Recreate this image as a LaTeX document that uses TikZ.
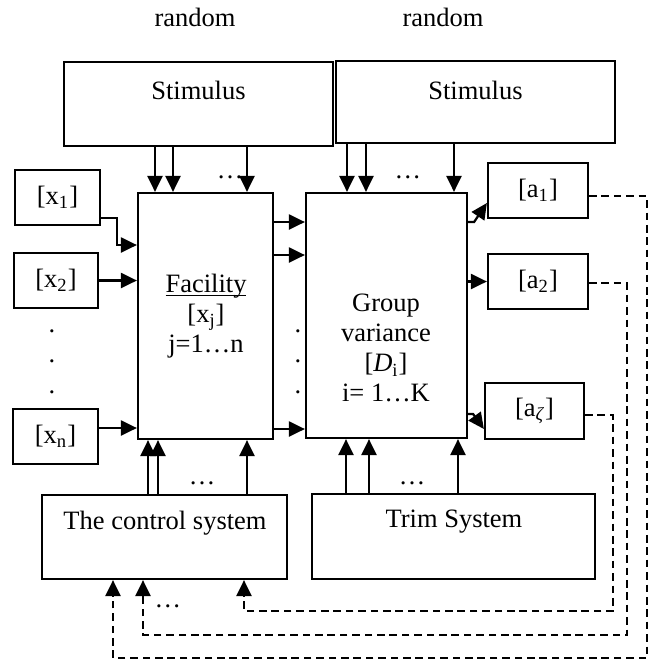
\documentclass[tikz,border=0pt]{standalone}
\usepackage{fontspec}
\setmainfont{Liberation Serif}
\usetikzlibrary{arrows.meta}

\tikzstyle{box}=[
  draw,
  rectangle,
  line width=1.1pt,
  inner sep=0pt,
  font=\fontsize{13.25pt}{15pt}\selectfont,
  ]
\tikzstyle{txt}=[ inner sep=0pt, align=center, font=\fontsize{13.25pt}{15pt}\selectfont ]
\tikzstyle{dotmark}=[ inner sep=0pt, anchor=base, font=\fontsize{13.25pt}{15pt}\selectfont ]
\tikzstyle{arr}=[ line width=1.1pt, -{Triangle[length=8pt,width=7.5pt]} ]
\tikzstyle{feedback}=[ arr, dash pattern=on 3.8pt off 2.4pt ]

\begin{document}
\begin{tikzpicture}[
    x=0.5pt, y=-0.5pt,
    ]
    \useasboundingbox (0,0) rectangle (655,661);

    \node[txt] (rnd1) at (195,17) {random};
    \node[txt] (rnd2) at (443,17) {random};

    \node[box, minimum width=134.5pt, minimum height=42pt] (stimL) at (198.5,104) {};
    \node[txt] (stimLtxt) at (198.5,90) {Stimulus};
    \node[box, minimum width=139.5pt, minimum height=41pt] (stimR) at (475.5,102) {};
    \node[txt] (stimRtxt) at (475.5,90) {Stimulus};

    \node[box, minimum width=67.5pt, minimum height=123pt] (fac) at (205.5,316) {};
    \node[txt, anchor=north] (factxt) at (206,292) {\underline{\smash{Facility}}\\{}[x\textsubscript{j}]\\j=1\ldots n};
    \node[box, minimum width=80.5pt, minimum height=122.5pt] (grp) at (386.5,315.5) {};
    \node[txt, anchor=north] (grptxt) at (386,294) {Group\\variance\\{}[\textit{D}\textsubscript{i}]\\i= 1\ldots K};

    \node[box, minimum width=42.5pt, minimum height=27.5pt] (x1) at (57.5,197.5) {[x\textsubscript{1}]};
    \node[box, minimum width=42pt, minimum height=27.5pt] (x2) at (56,280.5) {[x\textsubscript{2}]};
    \node[box, minimum width=42.5pt, minimum height=27.5pt] (xn) at (55.5,436.5) {[x\textsubscript{n}]};
    \node[dotmark] (vd1) at (52,332) {.};
    \node[dotmark] (vd2) at (52,362) {.};
    \node[dotmark] (vd3) at (52,393) {.};

    \node[box, minimum width=50pt, minimum height=27.5pt] (a1) at (538,190.5) {[a\textsubscript{1}]};
    \node[box, minimum width=50pt, minimum height=27.5pt] (a2) at (538,281.5) {[a\textsubscript{2}]};
    \node[box, minimum width=49.5pt, minimum height=28pt] (az) at (534.5,411) {[a\textsubscript{\textit{ζ}}]};

    \node[box, minimum width=122.5pt, minimum height=42pt] (ctrl) at (164.5,537) {};
    \node[txt] (ctrltxt) at (165,523) {The control system};
    \node[box, minimum width=141.5pt, minimum height=42.5pt] (trim) at (453.5,536.5) {};
    \node[txt] (trimtxt) at (454,522) {Trim System};

    \node[dotmark] (sd1) at (230,178) {\ldots};
    \node[dotmark] (sd2) at (408,178) {\ldots};
    \node[dotmark] (cd1) at (202,484) {\ldots};
    \node[dotmark] (cd2) at (412,484) {\ldots};
    \node[dotmark] (fd1) at (168,607) {\ldots};
    \node[dotmark] (md1) at (298,332) {.};
    \node[dotmark] (md2) at (298,362) {.};
    \node[dotmark] (md3) at (298,393) {.};

    \draw[arr] (155,0 |- stimL.south) -- (155,0 |- fac.north);
    \draw[arr] (173,0 |- stimL.south) -- (173,0 |- fac.north);
    \draw[arr] (247,0 |- stimL.south) -- (247,0 |- fac.north);
    \draw[arr] (347,0 |- stimR.south) -- (347,0 |- grp.north);
    \draw[arr] (366,0 |- stimR.south) -- (366,0 |- grp.north);
    \draw[arr] (454,0 |- stimR.south) -- (454,0 |- grp.north);

    \draw[arr] (x1.east |- 0,218) -- (117,218) -- (117,245) -- (fac.west |- 0,245);
    \draw[arr] (x2.east) -- (fac.west |- x2.east);
    \draw[arr] (xn.east |- 0,428) -- (fac.west |- 0,428);

    \draw[arr] (fac.east |- 0,222) -- (grp.west |- 0,222);
    \draw[arr] (fac.east |- 0,255) -- (grp.west |- 0,255);
    \draw[arr] (fac.east |- 0,429) -- (grp.west |- 0,429);

    \draw[arr] (grp.east |- 0,222) -- ++(6,0) -- (a1.west |- 0,203);
    \draw[arr] (grp.east |- a2.west) -- (a2.west);
    \draw[arr] (grp.east |- 0,414) -- ++(5,0) -- (az.west |- 0,429);

    \draw[arr] (148,0 |- ctrl.north) -- (148,0 |- fac.south);
    \draw[arr] (158,0 |- ctrl.north) -- (158,0 |- fac.south);
    \draw[arr] (247,0 |- ctrl.north) -- (247,0 |- fac.south);
    \draw[arr] (346,0 |- trim.north) -- (346,0 |- grp.south);
    \draw[arr] (369,0 |- trim.north) -- (369,0 |- grp.south);
    \draw[arr] (458,0 |- trim.north) -- (458,0 |- grp.south);

    \draw[feedback] (a1.east |- 0,196) -- (647,196) -- (647,658) -- (113,658) -- (113,0 |- ctrl.south);
    \draw[feedback] (a2.east |- 0,283) -- (627,283) -- (627,635) -- (143,635) -- (143,0 |- ctrl.south);
    \draw[feedback] (az.east |- 0,415) -- (613,415) -- (613,611) -- (244,611) -- (244,0 |- ctrl.south);
  \end{tikzpicture}
\end{document}
